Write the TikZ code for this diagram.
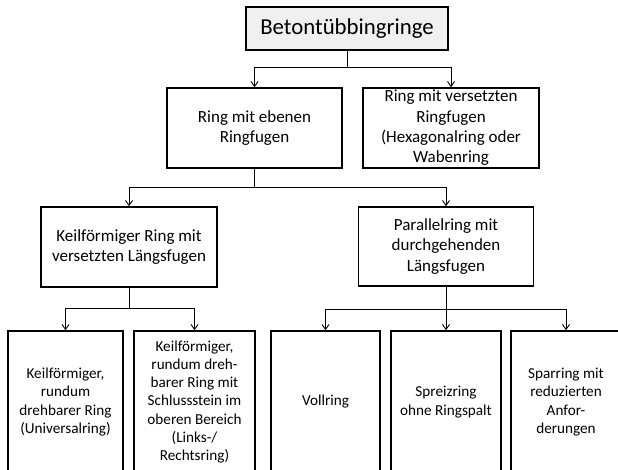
\documentclass[tikz,border=0pt]{standalone}
\usepackage{fontspec}
\setmainfont{Carlito}
\usetikzlibrary{arrows.meta}

\begin{document}
\begin{tikzpicture}[
  x=1pt, y=-1pt,
  box/.style={draw, line width=1.5pt, align=center, inner sep=0pt},
  midtxt/.style={font=\fontsize{17}{20.3}\selectfont},
  lowtxt/.style={font=\fontsize{15.2}{18.3}\selectfont},
  arr/.style={-{Straight Barb[length=5pt,width=7pt]}, line width=0.9pt}
]
  \clip (0,0) rectangle (618,470);

  \node[box, fill=gray!12, minimum width=202pt, minimum height=43pt,
    font=\fontsize{22.8}{27}\selectfont] (root) at (347,28.5) {Betontübbingringe};

  \node[box, midtxt, minimum width=175pt, minimum height=80pt] (ebene) at (254.5,128)
    {Ring mit ebenen\\Ringfugen};
  \node[box, midtxt, minimum width=176pt, minimum height=80pt] (versetzt) at (451,128)
    {Ring mit versetzten\\Ringfugen\\(Hexagonalring oder\\Wabenring};

  \node[box, midtxt, minimum width=176pt, minimum height=80pt] (keil) at (129,247)
    {Keilförmiger Ring mit\\versetzten Längsfugen};
  \node[box, midtxt, minimum width=175pt, minimum height=79pt] (parallel) at (446,246.5)
    {Parallelring mit\\durchgehenden\\Längsfugen};

  % untere Reihe
  \node[box, lowtxt, minimum width=115pt, minimum height=142pt] (universal) at (65.5,402)
    {Keilförmiger,\\rundum\\drehbarer Ring\\(Universalring)};
  \node[box, lowtxt, minimum width=121pt, minimum height=142pt] (schluss) at (194.5,402)
    {Keilförmiger,\\rundum dreh-\\barer Ring mit\\Schlussstein im\\oberen Bereich\\(Links-/\\Rechtsring)};
  \node[box, lowtxt, minimum width=109pt, minimum height=142pt] (voll) at (325.5,402)
    {Vollring};
  \node[box, lowtxt, minimum width=110pt, minimum height=142pt] (spreiz) at (446,402)
    {Spreizring\\ohne Ringspalt};
  \node[box, lowtxt, minimum width=110pt, minimum height=142pt] (spar) at (566,402)
    {Sparring mit\\reduzierten\\Anfor-\\derungen};

  \coordinate (j1) at (347,67);
  \coordinate (j2) at (254.5,187);
  \coordinate (j3) at (129,308);
  \coordinate (j4) at (446,309);

  \draw[line width=0.9pt] (root) -- (j1);
  \draw[arr] (j1) -| (ebene);
  \draw[arr] (j1) -| (versetzt);

  \draw[line width=0.9pt] (ebene) -- (j2);
  \draw[arr] (j2) -| (keil);
  \draw[arr] (j2) -| (parallel);

  \draw[line width=0.9pt] (keil) -- (j3);
  \foreach \b in {universal, schluss}
    \draw[arr] (j3) -| (\b);

  \draw[line width=0.9pt] (parallel) -- (j4);
  \foreach \b in {voll, spreiz, spar}
    \draw[arr] (j4) -| (\b);
\end{tikzpicture}
\end{document}
